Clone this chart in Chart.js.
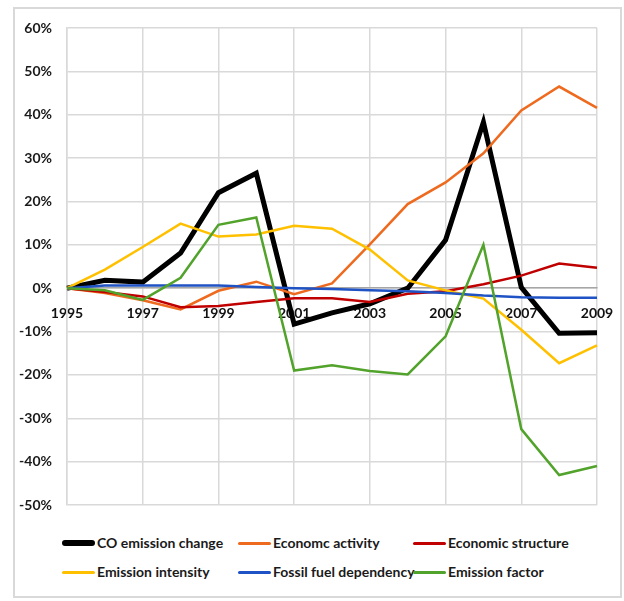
<!DOCTYPE html>
<html lang="en">
<head>
    <meta charset="UTF-8">
    <title>CO emission change decomposition</title>
    <script src="https://cdn.jsdelivr.net/npm/chart.js@4"></script>
    <style>
        html, body { margin: 0; padding: 0; background: #fff; }
        #frame {
            position: absolute; left: 13px; top: 7px;
            width: 605px; height: 587px;
            border: 2px solid #d9d9d9;
        }
        #wrap { position: absolute; left: 0; top: 0; width: 624px; height: 522px; }
        .item {
            position: absolute; height: 18px; line-height: 18px;
            font: bold 14px Lato, "Liberation Sans", sans-serif;
            color: #1a1a1a; white-space: nowrap;
        }
        .item i {
            display: inline-block; width: 33px; vertical-align: middle;
            margin-right: 2px; border-radius: 3px; position: relative; top: -1px;
        }
    </style>
</head>
<body>
<div id="frame"></div>
<div id="wrap"><canvas id="chart"></canvas></div>
<div id="legend"></div>
<script>
    var years = ['1995','1996','1997','1998','1999','2000','2001','2002','2003','2004','2005','2006','2007','2008','2009'];

    var seriesNames = ['CO emission change', 'Economc activity', 'Economic structure',
                       'Emission intensity', 'Fossil fuel dependency', 'Emission factor'];

    var coChange   = [0, 1.8, 1.4, 8.1, 22.0, 26.5, -8.3, -5.7, -3.6, 0.0, 11.1, 38.3, 0.2, -10.4, -10.3];
    var econActivity = [0, -1.1, -2.8, -4.9, -0.6, 1.5, -1.4, 1.1, 10.1, 19.4, 24.4, 31.1, 41.0, 46.5, 41.6];
    var econStructure = [0, -0.9, -1.9, -4.4, -4.1, -3.2, -2.3, -2.3, -3.2, -1.3, -0.7, 0.9, 2.9, 5.7, 4.7];
    var emIntensity = [0, 4.3, 9.5, 14.9, 11.9, 12.4, 14.4, 13.7, 8.9, 1.8, -0.5, -2.4, -9.6, -17.3, -13.2];
    var fossilDep = [0, 0.6, 0.6, 0.6, 0.6, 0.3, 0.0, -0.2, -0.5, -0.7, -1.1, -1.7, -2.1, -2.2, -2.2];
    var emFactor = [0, -0.5, -2.7, 2.4, 14.6, 16.3, -19.0, -17.8, -19.1, -19.9, -11.1, 10.0, -32.5, -43.1, -41.0];

    var yMin = -50, yMax = 60, yStep = 10;

    var colors = ['#000000', '#EE6A1F', '#C00000', '#FFC000', '#1F52C4', '#52A32B'];
    var widths = [5, 2.5, 2.5, 2.5, 2.5, 2.5];
    var values = [coChange, econActivity, econStructure, emIntensity, fossilDep, emFactor];

    var fontFamily = 'Lato, "Liberation Sans", sans-serif';

    var datasets = [];
    for (var i = 0; i < seriesNames.length; i++) {
        datasets.push({
            label: seriesNames[i],
            data: values[i],
            borderColor: colors[i],
            backgroundColor: colors[i],
            borderWidth: widths[i],
            pointRadius: 0,
            tension: 0,
            borderJoinStyle: 'miter',
            order: seriesNames.length - i   // later series drawn on top, like the original
        });
    }

    var ctx = document.getElementById('chart');
    var chart = new Chart(ctx, {
        type: 'line',
        data: { labels: years, datasets: datasets },
        options: {
            responsive: true,
            maintainAspectRatio: false,
            animation: false,
            layout: { padding: { left: 0, top: 28, right: 27, bottom: 17 } },
            plugins: { legend: { display: false }, tooltip: { enabled: false } },
            scales: {
                x: {
                    type: 'category',
                    offset: false,
                    position: { y: 0 },
                    // the axis sits on the 0% line, so its labels should not eat into the plot
                    afterFit: function (scale) { scale.paddingLeft = 0; scale.paddingRight = 0; },
                    grid: {
                        drawTicks: false,
                        color: function (c) { return c.index % 2 === 0 ? '#d9d9d9' : 'rgba(0,0,0,0)'; },
                        lineWidth: 1.5
                    },
                    border: { color: '#a6a6a6', width: 1.5 },
                    ticks: {
                        autoSkip: false,
                        maxRotation: 0,
                        padding: 17,
                        color: '#111',
                        font: { family: fontFamily, size: 14, weight: 'bold' },
                        callback: function (v, idx) { return idx % 2 === 0 ? years[idx] : ''; }
                    }
                },
                y: {
                    min: yMin,
                    max: yMax,
                    afterFit: function (scale) {
                        scale.width = 67;
                        scale.paddingTop = 0;
                        scale.paddingBottom = 0;
                    },
                    grid: { drawTicks: false, color: '#d9d9d9', lineWidth: 1.5 },
                    border: { color: '#d9d9d9', width: 1.5 },
                    ticks: {
                        stepSize: yStep,
                        padding: 15,
                        color: '#1a1a1a',
                        font: { family: fontFamily, size: 14, weight: 'bold' },
                        callback: function (v) { return v + '%'; }
                    }
                }
            }
        }
    });

    // legend laid out in three columns, two rows
    var colX = [62, 238, 413];
    var rowY = [534, 563];
    var legend = document.getElementById('legend');
    for (var k = 0; k < seriesNames.length; k++) {
        var item = document.createElement('div');
        item.className = 'item';
        item.style.left = colX[k % 3] + 'px';
        item.style.top = rowY[Math.floor(k / 3)] + 'px';
        var sw = document.createElement('i');
        sw.style.background = colors[k];
        sw.style.height = (k === 0 ? 6 : 3) + 'px';
        item.appendChild(sw);
        item.appendChild(document.createTextNode(seriesNames[k]));
        legend.appendChild(item);
    }
</script>
</body>
</html>
